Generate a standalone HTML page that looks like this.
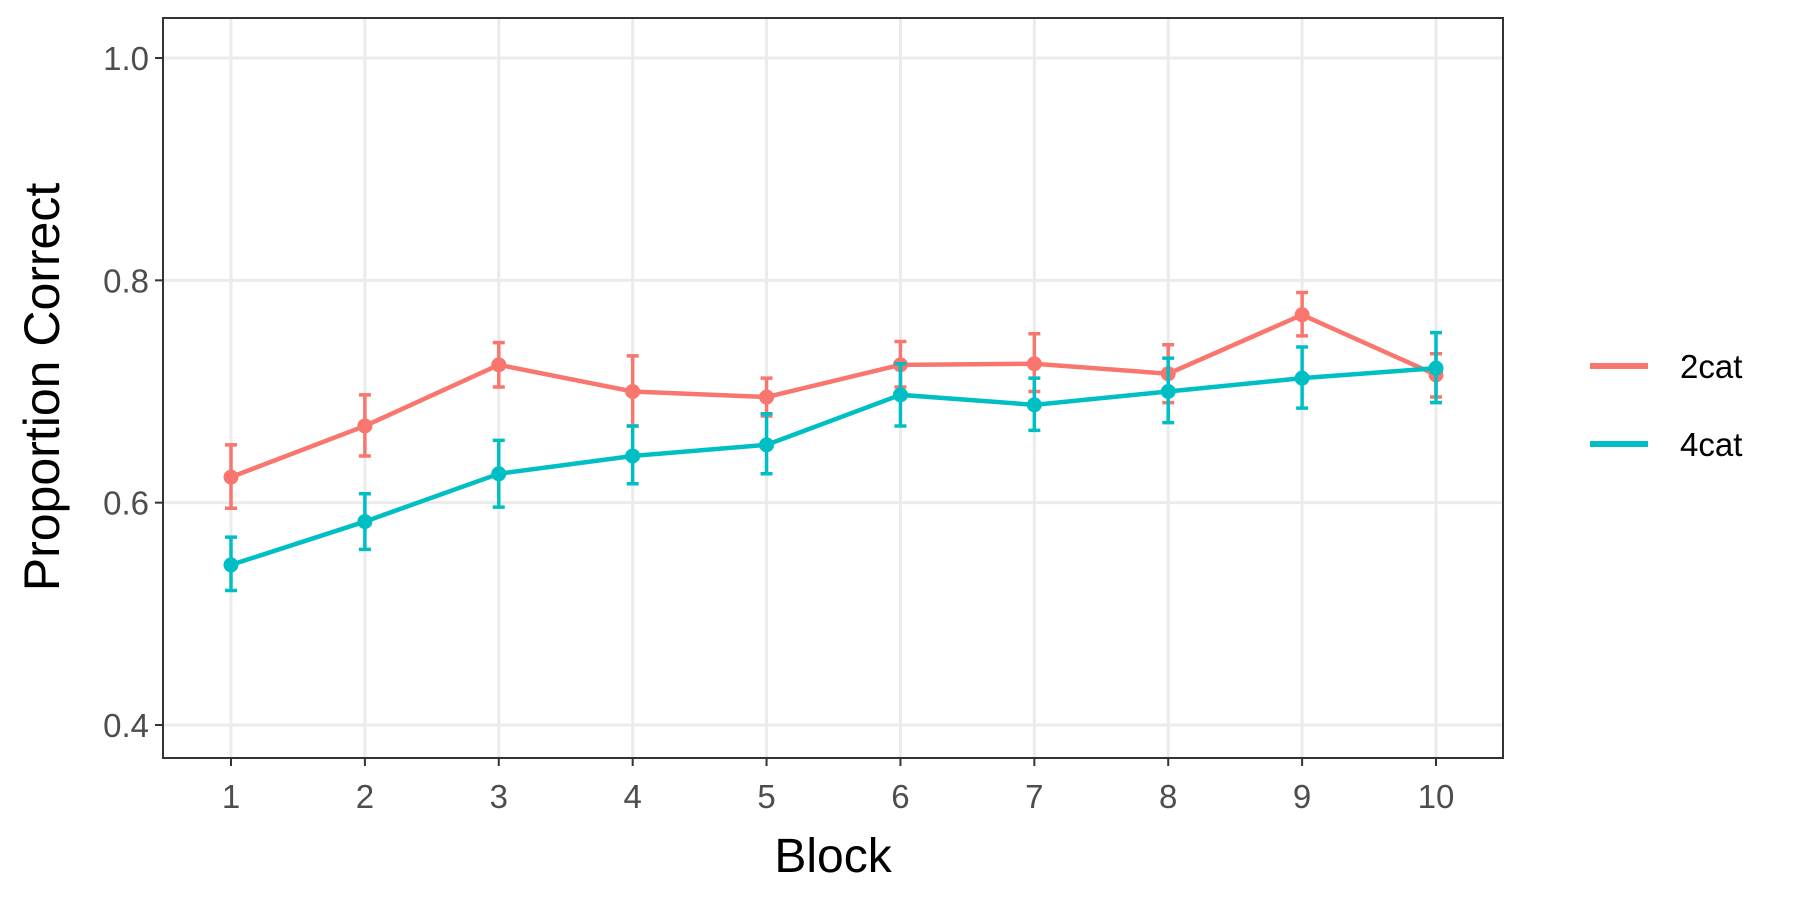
<!DOCTYPE html>
<html><head><meta charset="utf-8"><style>
html,body{margin:0;padding:0;background:#fff;}
svg{display:block;font-family:"Liberation Sans",Arial,sans-serif;}
</style></head><body>
<svg id="chart" width="1800" height="900" viewBox="0 0 1800 900" xmlns="http://www.w3.org/2000/svg">
<rect x="0" y="0" width="1800" height="900" fill="#fff"/>
<g id="grid"></g>
<g id="series"></g>
<rect x="163" y="18" width="1340" height="740" fill="none" stroke="#333" stroke-width="2"/>
<g id="axes"></g>
<text x="46" y="387" transform="rotate(-90 46 387)" text-anchor="middle" font-size="50" fill="#000" dominant-baseline="middle">Proportion Correct</text>
<text x="833" y="872" text-anchor="middle" font-size="48" fill="#000">Block</text>
<g>
<g>
<line x1="1590" y1="366" x2="1648" y2="366" stroke="#F8766D" stroke-width="6"/>
<text x="1680" y="378" font-size="33" fill="#000">2cat</text></g>
<g>
<line x1="1590" y1="444" x2="1648" y2="444" stroke="#00BFC4" stroke-width="6"/>
<text x="1680" y="456" font-size="33" fill="#000">4cat</text></g>
</g>
</svg>
<script>
const blocks=[1,2,3,4,5,6,7,8,9,10];
const yTicks=[0.4,0.6,0.8,1.0];
const yTickLabels=["0.4","0.6","0.8","1.0"];
const mean2=[0.623,0.669,0.724,0.700,0.695,0.724,0.725,0.716,0.769,0.715];
const lo2=[0.595,0.642,0.704,0.669,0.678,0.704,0.700,0.690,0.750,0.695];
const hi2=[0.652,0.697,0.744,0.732,0.712,0.745,0.752,0.742,0.789,0.734];
const mean4=[0.544,0.583,0.626,0.642,0.652,0.697,0.688,0.700,0.712,0.721];
const lo4=[0.521,0.558,0.596,0.617,0.626,0.669,0.665,0.672,0.685,0.690];
const hi4=[0.569,0.608,0.656,0.669,0.680,0.725,0.712,0.730,0.740,0.753];
const NS="http://www.w3.org/2000/svg";
const X=b=>231+(b-1)*(1436-231)/9;
const Y=v=>725-(v-0.4)*(725-58)/0.6;
function mk(tag,attrs,parent){const e=document.createElementNS(NS,tag);for(const k in attrs)e.setAttribute(k,attrs[k]);parent.appendChild(e);return e;}
const grid=document.getElementById('grid'),axes=document.getElementById('axes'),ser=document.getElementById('series');
yTicks.forEach((v,i)=>{
const g=mk('line',{x1:163,x2:1503,y1:Y(v),y2:Y(v),stroke:'#ebebeb','stroke-width':3},grid);


const t=mk('line',{x1:155,x2:163,y1:Y(v),y2:Y(v),stroke:'#333','stroke-width':2},axes);


const tx=mk('text',{x:149,y:Y(v)+12,'text-anchor':'end','font-size':33,fill:'#4d4d4d'},axes);
tx.textContent=yTickLabels[i];

});
blocks.forEach(b=>{
const g=mk('line',{x1:X(b),x2:X(b),y1:18,y2:758,stroke:'#ebebeb','stroke-width':3},grid);


const t=mk('line',{x1:X(b),x2:X(b),y1:758,y2:766,stroke:'#333','stroke-width':2},axes);


const tx=mk('text',{x:X(b),y:808,'text-anchor':'middle','font-size':33,fill:'#4d4d4d'},axes);
tx.textContent=String(b);

});
function drawSeries(mean,lo,hi,color,name){
const g=mk('g',{},ser);


blocks.forEach((b,i)=>{
const e=mk('path',{d:`M${X(b)-6},${Y(hi[i])}H${X(b)+6}M${X(b)},${Y(hi[i])}V${Y(lo[i])}M${X(b)-6},${Y(lo[i])}H${X(b)+6}`,stroke:color,'stroke-width':3.5,fill:'none'},g);

});
const p=mk('polyline',{points:blocks.map((b,i)=>X(b)+','+Y(mean[i])).join(' '),fill:'none',stroke:color,'stroke-width':4.5},g);


blocks.forEach((b,i)=>{const c=mk('circle',{cx:X(b),cy:Y(mean[i]),r:7.5,fill:color},g);

});}
drawSeries(mean2,lo2,hi2,'#F8766D','2cat');
drawSeries(mean4,lo4,hi4,'#00BFC4','4cat');
</script>
</body></html>
